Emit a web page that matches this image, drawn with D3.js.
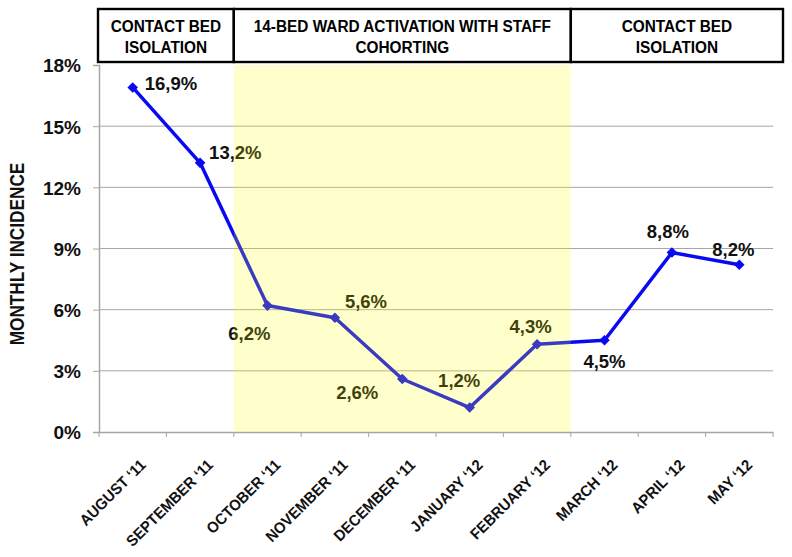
<!DOCTYPE html>
<html><head><meta charset="utf-8">
<script src="https://cdn.jsdelivr.net/npm/d3@7"></script>
<style>
body{margin:0;background:#fff;}
svg{display:block;}
.sans{font-family:"Liberation Sans",Arial,sans-serif;font-weight:bold;}
</style></head>
<body>
<svg id="c" width="792" height="557"></svg>
<script>
const categories = ["AUGUST \u201811","SEPTEMBER \u201811","OCTOBER \u201811","NOVEMBER \u201811","DECEMBER \u201811","JANUARY \u201812","FEBRUARY \u201812","MARCH \u201812","APRIL \u201812","MAY \u201812"];
const incidence = [16.9, 13.2, 6.2, 5.6, 2.6, 1.2, 4.3, 4.5, 8.8, 8.2];
const valueLabels = ["16,9%","13,2%","6,2%","5,6%","2,6%","1,2%","4,3%","4,5%","8,8%","8,2%"];
const yTicks = [0, 3, 6, 9, 12, 15, 18];
const phases = [
  {lines:["CONTACT BED","ISOLATION"], from:0, to:1},
  {lines:["14-BED WARD ACTIVATION WITH STAFF","COHORTING"], from:2, to:6},
  {lines:["CONTACT BED","ISOLATION"], from:7, to:9}
];
const highlightPhase = 1;
// label placement (dx, dy, anchor) relative to each point
const labelOffsets = [[12,-4,"start"],[9,-10,"start"],[3,28,"end"],[10,-16.5,"start"],[-24,14,"end"],[-10.5,-27.5,"middle"],[-6.5,-17.5,"middle"],[0,21,"middle"],[-4,-21,"middle"],[-6,-15.5,"middle"]];

const svg = d3.select("#c");
const L = 99, R = 773, T = 65, B = 432;
const x = d3.scaleBand().domain(categories).range([L, R]);
const y = d3.scaleLinear().domain([0, 18]).range([B, T]);
const blue = "#0a0af2";
const hp = phases[highlightPhase];

// gridlines
svg.append("g").selectAll("line").data(yTicks.filter(d => d > 0 && d < 18)).join("line")
  .attr("x1", L).attr("x2", R).attr("y1", d => y(d)).attr("y2", d => y(d))
  .attr("stroke", "#a6a6a6").attr("stroke-width", 1);

// y axis
const yAxis = d3.axisLeft(y).tickValues(yTicks).tickFormat(d => d + "%").tickSize(6).tickPadding(12);
const gy = svg.append("g").attr("transform", `translate(${L},0)`).call(yAxis);
gy.select(".domain").attr("stroke", "#a6a6a6").attr("stroke-width", 1.5);
gy.selectAll(".tick line").attr("stroke", "#a6a6a6");
gy.selectAll(".tick text").attr("class", "sans").attr("font-size", 19).attr("fill", "#111").attr("dy", "0.36em");

// x axis
const gx = svg.append("g").attr("transform", `translate(0,${B})`)
  .call(d3.axisBottom(x).tickSize(0).tickPadding(0));
gx.select(".domain").attr("stroke", "#a6a6a6").attr("stroke-width", 1.5);
gx.selectAll(".tick text").attr("class", "sans").attr("font-size", 15.5).attr("fill", "#111")
  .attr("text-anchor", "end").attr("x", 0).attr("y", 0).attr("dy", 0)
  .attr("transform", "translate(14,34) rotate(-45) scale(0.95,1)");
// boundary ticks
const bounds = categories.map(c => x(c)).concat([R]);
svg.append("g").selectAll("line").data(bounds).join("line")
  .attr("x1", d => d).attr("x2", d => d).attr("y1", B).attr("y2", B + 5)
  .attr("stroke", "#a6a6a6");

// y title
svg.append("text").attr("class", "sans").attr("font-size", 21).attr("fill", "#111")
  .attr("text-anchor", "middle")
  .attr("transform", `translate(24,254) rotate(-90) scale(0.82,1)`)
  .text("MONTHLY INCIDENCE");

// header boxes
const hTop = 9, hBot = 62;
phases.forEach((p, i) => {
  const x0 = i === 0 ? 98 : x(categories[p.from]);
  const x1 = i === phases.length - 1 ? 783 : x(categories[p.to]) + x.bandwidth();
  svg.append("rect").attr("x", x0).attr("y", hTop).attr("width", x1 - x0).attr("height", hBot - hTop)
    .attr("fill", "none").attr("stroke", "#000").attr("stroke-width", 2.4);
  p.lines.forEach((t, j) => {
    svg.append("text").attr("class", "sans").attr("font-size", 16).attr("fill", "#000")
      .attr("text-anchor", "middle")
      .attr("transform", `translate(${(x0 + x1) / 2},${31.5 + j * 21}) scale(0.96,1)`).text(t);
  });
});

// line
const cx = (d, i) => x(categories[i]) + x.bandwidth() / 2;
const line = d3.line().x((d, i) => cx(d, i)).y(d => y(d));
svg.append("path").datum(incidence).attr("d", line)
  .attr("fill", "none").attr("stroke", blue).attr("stroke-width", 3.5).attr("stroke-linejoin", "round");
svg.append("g").selectAll("path").data(incidence).join("path")
  .attr("d", d3.symbol(d3.symbolSquare, 56))
  .attr("transform", (d, i) => `translate(${cx(d, i)},${y(d)}) rotate(45)`)
  .attr("fill", blue);

// value labels
svg.append("g").selectAll("text").data(incidence).join("text")
  .attr("class", "sans").attr("font-size", 18.5).attr("fill", "#111")
  .attr("x", (d, i) => cx(d, i) + labelOffsets[i][0])
  .attr("y", (d, i) => y(d) + labelOffsets[i][1])
  .attr("dy", "0.35em")
  .attr("text-anchor", (d, i) => labelOffsets[i][2])
  .text((d, i) => valueLabels[i]);

// translucent highlight band drawn over the plot
svg.append("rect")
  .attr("x", x(categories[hp.from])).attr("y", T)
  .attr("width", x(categories[hp.to]) + x.bandwidth() - x(categories[hp.from]))
  .attr("height", B - T).attr("fill", "#ffff00").attr("fill-opacity", 0.2);
</script>
</body></html>
